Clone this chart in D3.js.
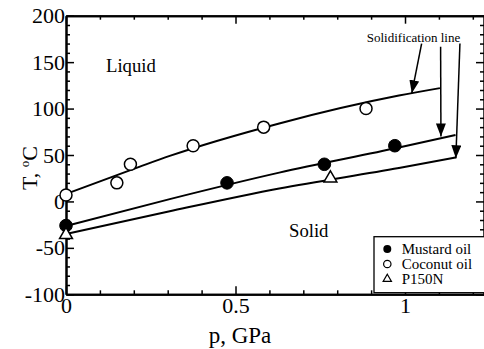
<!DOCTYPE html>
<html><head><meta charset="utf-8">
<script src="https://cdn.jsdelivr.net/npm/d3@7"></script>
<style>
html,body{margin:0;padding:0;background:#fff;}
</style></head>
<body>
<svg id="chart" width="484" height="349"></svg>
<script>
// ---- data ----
const coconutP = [0, 0.15, 0.19, 0.375, 0.583, 0.885];
const coconutT = [7, 20, 40, 60, 80, 100];
const mustardP = [0, 0.475, 0.762, 0.97];
const mustardT = [-26, 20, 40, 60];
const p150nP = [0, 0.78];
const p150nT = [-36, 25];

// solidification (fitted) lines
const coconutLineP = [0, 0.218, 0.306, 0.629, 0.982, 1.103];
const coconutLineT = [8, 37.5, 49, 84, 114, 122];
const mustardLineP = [0, 0.306, 0.629, 0.982, 1.149];
const mustardLineT = [-26.5, 2.5, 31, 58, 71.5];
const p150nLineP = [0, 0.306, 0.629, 0.982, 1.151];
const p150nLineT = [-35, -10.5, 14, 36, 47.5];

const xMajorTicks = [0, 0.5, 1];
const xMinorTicks = [0.1,0.2,0.3,0.4,0.6,0.7,0.8,0.9,1.1,1.2];
const yMajorTicks = [-100, -50, 0, 50, 100, 150, 200];
const yMinorTicks = d3.range(-90, 200, 10).filter(v => v % 50 !== 0);

const legendLabels = ["Mustard oil", "Coconut oil", "P150N"];

// annotation arrows: [fromP, fromT, toP, toT]
const arrowFromP = [1.049, 1.105, 1.162];
const arrowFromT = [170, 166.5, 170];
const arrowToP = [1.020, 1.106, 1.150];
const arrowToT = [116.5, 70, 46.5];

// ---- layout ----
const FF = '"Liberation Serif", Tinos, "Times New Roman", Times, "DejaVu Serif", serif';
const svg = d3.select("#chart").style("font-family", FF);
const x = d3.scaleLinear().domain([0, 1.233]).range([66, 484]);
const y = d3.scaleLinear().domain([-100, 200]).range([294.3, 15.7]);
const font = 22;

function styleAxis(g) {
  g.attr("font-family", null).style("font-family", FF);
  g.select(".domain").attr("stroke-width", 2).attr("stroke", "#000");
  g.selectAll(".tick line").attr("stroke-width", 1.5).attr("stroke", "#000");
  g.selectAll(".tick text").attr("font-size", font).attr("fill", "#000")
    .style("font-family", FF);
}

// minor ticks
[["bottom", 294.3], ["top", 15.7]].forEach(([side, pos]) => {
  const ax = side === "bottom" ? d3.axisBottom(x) : d3.axisTop(x);
  svg.append("g").attr("transform", `translate(0,${pos})`)
    .call(ax.tickValues(xMinorTicks).tickSizeInner(-4).tickSizeOuter(0).tickFormat(""))
    .call(styleAxis);
});
[["left", 66], ["right", 484]].forEach(([side, pos]) => {
  const ax = side === "left" ? d3.axisLeft(y) : d3.axisRight(y);
  svg.append("g").attr("transform", `translate(${pos},0)`)
    .call(ax.tickValues(yMinorTicks).tickSizeInner(-4).tickSizeOuter(0).tickFormat(""))
    .call(styleAxis);
});
// major ticks
svg.append("g").attr("transform", "translate(0,15.7)")
  .call(d3.axisTop(x).tickValues(xMajorTicks).tickSizeInner(-8).tickSizeOuter(0).tickFormat(""))
  .call(styleAxis);
svg.append("g").attr("transform", "translate(484,0)")
  .call(d3.axisRight(y).tickValues(yMajorTicks).tickSizeInner(-8).tickSizeOuter(0).tickFormat(""))
  .call(styleAxis);
svg.append("g").attr("transform", "translate(0,294.3)")
  .call(d3.axisBottom(x).tickValues(xMajorTicks).tickSizeInner(-8).tickSizeOuter(0).tickPadding(3.5)
    .tickFormat(d => d === 0 ? "0" : d === 1 ? "1" : "0.5"))
  .call(styleAxis);
svg.append("g").attr("transform", "translate(66,0)")
  .call(d3.axisLeft(y).tickValues(yMajorTicks).tickSizeInner(-8).tickSizeOuter(0).tickPadding(1)
    .tickFormat(d => String(d)))
  .call(styleAxis);

// axis titles
svg.append("text").attr("x", 240).attr("y", 342.7).attr("text-anchor", "middle")
  .attr("font-size", 23).text("p, GPa");
const yt = svg.append("text").attr("transform", "translate(37,168) rotate(-90)")
  .attr("text-anchor", "middle").attr("font-size", 22);
yt.append("tspan").text("T, ");
yt.append("tspan").attr("font-size", 13).attr("dy", -8).text("o");
yt.append("tspan").attr("dy", 8).text("C");

// region labels
svg.append("text").attr("x", 106).attr("y", 72).attr("font-size", 18.7).text("Liquid");
svg.append("text").attr("x", 289).attr("y", 236.7).attr("font-size", 18.7).text("Solid");

// lines
const line = d3.line().x(d => x(d[0])).y(d => y(d[1])).curve(d3.curveMonotoneX);
[[coconutLineP, coconutLineT], [mustardLineP, mustardLineT], [p150nLineP, p150nLineT]].forEach(([ps, ts]) => {
  svg.append("path").datum(ps.map((p, i) => [p, ts[i]]))
    .attr("d", line).attr("fill", "none").attr("stroke", "#000").attr("stroke-width", 2);
});

// markers
svg.append("g").selectAll("circle").data(coconutP.map((p, i) => [p, coconutT[i]])).join("circle")
  .attr("cx", d => x(d[0])).attr("cy", d => y(d[1])).attr("r", 6)
  .attr("fill", "#fff").attr("stroke", "#000").attr("stroke-width", 1.5);
svg.append("g").selectAll("circle").data(mustardP.map((p, i) => [p, mustardT[i]])).join("circle")
  .attr("cx", d => x(d[0])).attr("cy", d => y(d[1])).attr("r", 6.3)
  .attr("fill", "#000").attr("stroke", "#000").attr("stroke-width", 1);
const tri = d3.symbol(d3.symbolTriangle, 72);
svg.append("g").selectAll("path").data(p150nP.map((p, i) => [p, p150nT[i]])).join("path")
  .attr("d", tri).attr("transform", d => `translate(${x(d[0])},${y(d[1])})`)
  .attr("fill", "#fff").attr("stroke", "#000").attr("stroke-width", 1.5);

// annotation
svg.append("defs").append("marker").attr("id", "ah")
  .attr("markerUnits", "userSpaceOnUse").attr("markerWidth", 14).attr("markerHeight", 10)
  .attr("refX", 13).attr("refY", 5).attr("orient", "auto")
  .append("path").attr("d", "M0,0L13,5L0,10Z").attr("fill", "#000");
arrowFromP.forEach((p, i) => {
  svg.append("line").attr("x1", x(p)).attr("y1", y(arrowFromT[i]))
    .attr("x2", x(arrowToP[i])).attr("y2", y(arrowToT[i]))
    .attr("stroke", "#000").attr("stroke-width", 1.5).attr("marker-end", "url(#ah)");
});
svg.append("text").attr("x", 413.5).attr("y", 42).attr("text-anchor", "middle")
  .attr("font-size", 13).attr("fill", "#000").text("Solidification line");

// legend
const lg = svg.append("g");
lg.append("rect").attr("x", 374).attr("y", 236.7).attr("width", 115).attr("height", 56)
  .attr("fill", "#fff").attr("stroke", "#000").attr("stroke-width", 1.3);
const ly = [249, 264, 279];
lg.append("circle").attr("cx", 387.3).attr("cy", ly[0]).attr("r", 4).attr("fill", "#000");
lg.append("circle").attr("cx", 387.3).attr("cy", ly[1]).attr("r", 3.7).attr("fill", "#fff")
  .attr("stroke", "#000").attr("stroke-width", 1.2);
lg.append("path").attr("d", d3.symbol(d3.symbolTriangle, 30))
  .attr("transform", `translate(387.3,${ly[2]})`).attr("fill", "#fff")
  .attr("stroke", "#000").attr("stroke-width", 1.2);
legendLabels.forEach((t, i) => {
  lg.append("text").attr("x", 401.7).attr("y", ly[i] + 5).attr("font-size", 15).text(t);
});
</script>
</body></html>
